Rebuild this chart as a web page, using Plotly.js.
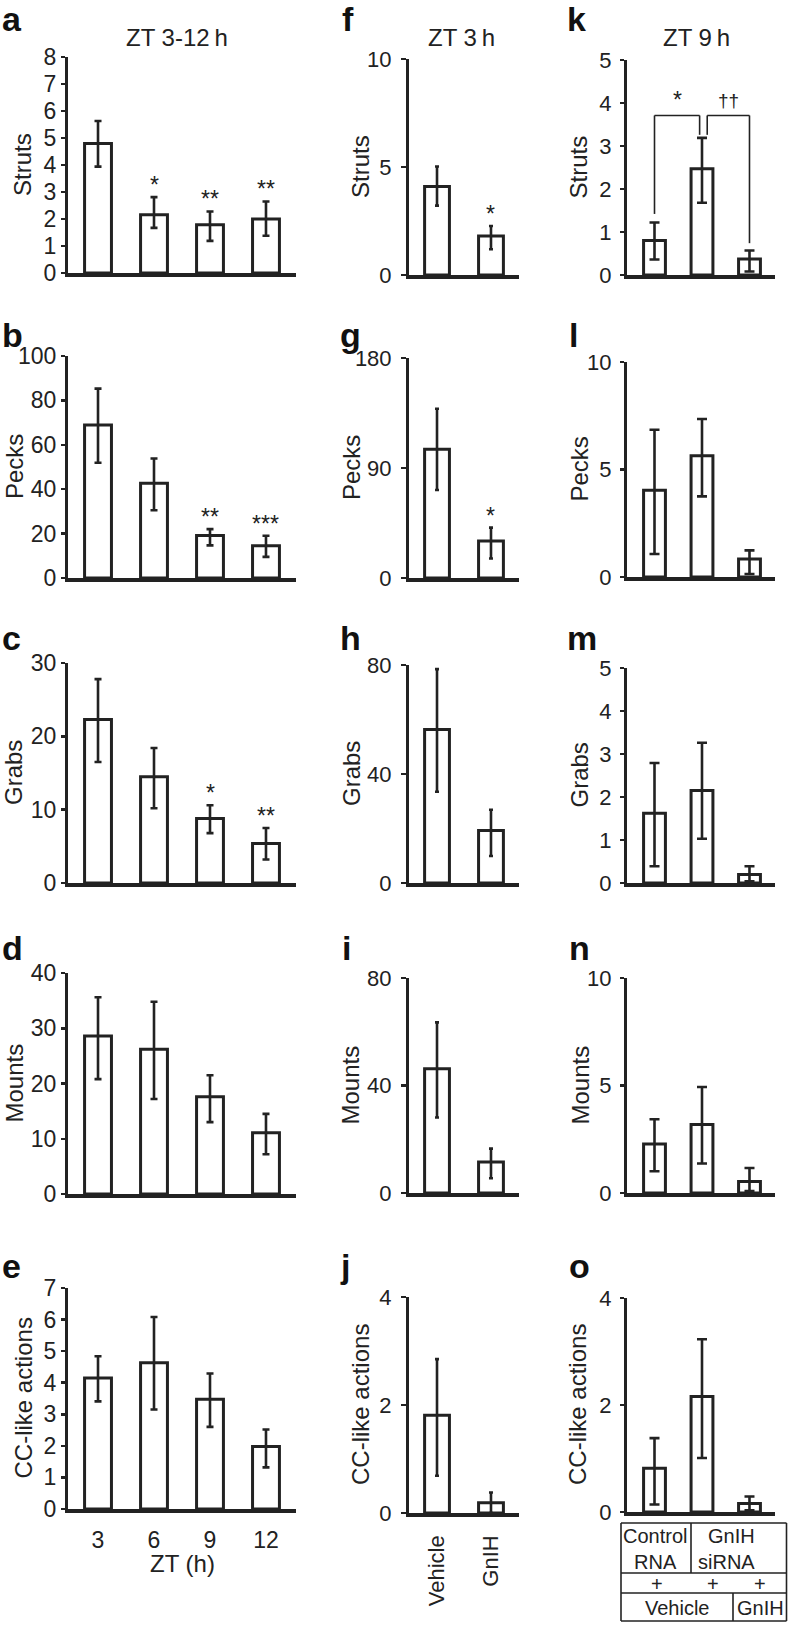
<!DOCTYPE html>
<html><head><meta charset="utf-8">
<script src="https://cdn.plot.ly/plotly-3.0.1.min.js"></script>
<style>html,body{margin:0;padding:0;background:#fff}#chart{width:788px;height:1625px}</style>
</head><body><div id="chart"></div>
<script>
// ---------- categories ----------
const ztHours = ['3', '6', '9', '12'];
const treatments = ['Vehicle', 'GnIH'];
const sirnaGroups = ['Control RNA + Vehicle', 'GnIH siRNA + Vehicle', 'GnIH siRNA + GnIH'];

// ---------- column 1: ZT 3-12 h (mean, +err, -err) ----------
const strutsZT = [4.80, 2.16, 1.79, 2.00];
const strutsZTUp = [0.83, 0.65, 0.49, 0.65];
const strutsZTDn = [0.86, 0.49, 0.60, 0.62];
const pecksZT = [68.9, 42.7, 19.1, 14.5];
const pecksZTUp = [16.4, 11.1, 2.9, 4.5];
const pecksZTDn = [17.0, 12.2, 4.4, 5.0];
const grabsZT = [22.3, 14.5, 8.8, 5.4];
const grabsZTUp = [5.5, 3.9, 1.8, 2.1];
const grabsZTDn = [5.8, 4.3, 2.0, 2.2];
const mountsZT = [28.6, 26.2, 17.6, 11.1];
const mountsZTUp = [7.0, 8.6, 3.9, 3.4];
const mountsZTDn = [7.8, 9.0, 4.6, 3.9];
const ccZT = [4.15, 4.63, 3.48, 1.98];
const ccZTUp = [0.69, 1.45, 0.81, 0.54];
const ccZTDn = [0.74, 1.48, 0.88, 0.66];

// ---------- column 2: ZT 3 h, Vehicle vs GnIH ----------
const strutsTr = [4.10, 1.81];
const strutsTrUp = [0.92, 0.46];
const strutsTrDn = [0.89, 0.62];
const pecksTr = [105.4, 30.2];
const pecksTrUp = [33.1, 11.0];
const pecksTrDn = [33.4, 14.3];
const grabsTr = [56.3, 19.3];
const grabsTrUp = [22.2, 7.6];
const grabsTrDn = [22.8, 9.4];
const mountsTr = [46.2, 11.5];
const mountsTrUp = [17.3, 5.0];
const mountsTrDn = [18.1, 6.0];
const ccTr = [1.81, 0.19];
const ccTrUp = [1.04, 0.19];
const ccTrDn = [1.12, 0.19];

// ---------- column 3: ZT 9 h, siRNA groups ----------
const strutsSi = [0.80, 2.47, 0.37];
const strutsSiUp = [0.42, 0.72, 0.20];
const strutsSiDn = [0.44, 0.79, 0.29];
const pecksSi = [4.03, 5.64, 0.84];
const pecksSiUp = [2.82, 1.71, 0.40];
const pecksSiDn = [2.96, 1.89, 0.70];
const grabsSi = [1.62, 2.15, 0.20];
const grabsSiUp = [1.17, 1.11, 0.19];
const grabsSiDn = [1.23, 1.12, 0.16];
const mountsSi = [2.28, 3.19, 0.53];
const mountsSiUp = [1.15, 1.74, 0.63];
const mountsSiDn = [1.27, 1.82, 0.44];
const ccSi = [0.82, 2.16, 0.16];
const ccSiUp = [0.56, 1.07, 0.13];
const ccSiDn = [0.68, 1.15, 0.13];

// ---------- significance marks ----------
const sigStrutsZT = ['', '*', '**', '**'];
const sigPecksZT = ['', '', '**', '***'];
const sigGrabsZT = ['', '', '*', '**'];
const sigStrutsTr = ['', '*'];
const sigPecksTr = ['', '*'];
const strutsSiComparisons = [[0, 1, '*'], [1, 2, '\u2020\u2020']];
const strutsSiBracketLevel = 3.71;

// ---------- text ----------
const columnTitles = ['ZT 3-12\u2009h', 'ZT 3\u2009h', 'ZT 9\u2009h'];
const rowTitles = ['Struts', 'Pecks', 'Grabs', 'Mounts', 'CC-like actions'];
const panelLetters = ['a','b','c','d','e','f','g','h','i','j','k','l','m','n','o'];
const ztAxisTitle = 'ZT (h)';
const tableLine1 = ['Control', 'GnIH'];
const tableLine2 = ['RNA', 'siRNA'];
const tablePlus = ['+', '+', '+'];
const tableLine3 = ['Vehicle', 'GnIH'];

// ---------- layout geometry (pixels) ----------
const W = 788, H = 1625;
const FONT = '"Liberation Sans", Arial, Helvetica, sans-serif';
const INK = '#222';
const cols = [
  {x0: 68, x1: 296, range: [-0.536, 3.536], bw: 0.48, cap: 3.5, tick: 23, pad: 0, tlen: 4, cats: ztHours},
  {x0: 409, x1: 519, range: [-0.519, 1.519], bw: 0.46, cap: 2, tick: 22, pad: 5, tlen: 5, cats: treatments},
  {x0: 627, x1: 775, range: [-0.579, 2.537], bw: 0.46, cap: 5, tick: 22, pad: 4, tlen: 4, cats: sirnaGroups}
];
const rowsY = [
  [[57, 273], [59, 275], [60, 275]],
  [[356, 578], [358, 578], [362, 577]],
  [[663, 883], [665, 883], [668, 883]],
  [[973, 1194], [978, 1193], [978, 1193]],
  [[1288, 1509], [1297, 1513], [1298, 1512]]
];
const yTitleX = [[22, 14, 14, 14, 23], [360, 351, 351, 350, 360], [578, 579, 579, 580, 577]];
const letterX = [[0, 0, 0, 0, 0], [340, 338, 338, 340, 338], [565, 567, 565, 567, 567]];
const letterMid = [null, 335, 638, 948, 1266];

const panelData = [
  [{y: strutsZT, up: strutsZTUp, dn: strutsZTDn, max: 8, dtick: 1, sig: sigStrutsZT},
   {y: pecksZT, up: pecksZTUp, dn: pecksZTDn, max: 100, dtick: 20, sig: sigPecksZT},
   {y: grabsZT, up: grabsZTUp, dn: grabsZTDn, max: 30, dtick: 10, sig: sigGrabsZT},
   {y: mountsZT, up: mountsZTUp, dn: mountsZTDn, max: 40, dtick: 10},
   {y: ccZT, up: ccZTUp, dn: ccZTDn, max: 7, dtick: 1}],
  [{y: strutsTr, up: strutsTrUp, dn: strutsTrDn, max: 10, dtick: 5, sig: sigStrutsTr},
   {y: pecksTr, up: pecksTrUp, dn: pecksTrDn, max: 180, dtick: 90, sig: sigPecksTr},
   {y: grabsTr, up: grabsTrUp, dn: grabsTrDn, max: 80, dtick: 40},
   {y: mountsTr, up: mountsTrUp, dn: mountsTrDn, max: 80, dtick: 40},
   {y: ccTr, up: ccTrUp, dn: ccTrDn, max: 4, dtick: 2}],
  [{y: strutsSi, up: strutsSiUp, dn: strutsSiDn, max: 5, dtick: 1},
   {y: pecksSi, up: pecksSiUp, dn: pecksSiDn, max: 10, dtick: 5},
   {y: grabsSi, up: grabsSiUp, dn: grabsSiDn, max: 5, dtick: 1},
   {y: mountsSi, up: mountsSiUp, dn: mountsSiDn, max: 10, dtick: 5},
   {y: ccSi, up: ccSiUp, dn: ccSiDn, max: 4, dtick: 2}]
];

const traces = [];
const layout = {
  width: W, height: H,
  margin: {l: 0, r: 0, t: 0, b: 0},
  paper_bgcolor: '#fff', plot_bgcolor: 'rgba(0,0,0,0)',
  showlegend: false,
  font: {family: FONT, color: INK, size: 23},
  annotations: [], shapes: []
};

let n = 0;
for (let c = 0; c < 3; c++) {
  for (let r = 0; r < 5; r++) {
    n++;
    const col = cols[c], pd = panelData[c][r];
    const [yt, yb] = rowsY[r][c];
    const xs = 'x' + (n > 1 ? n : ''), ys = 'y' + (n > 1 ? n : '');
    const xk = 'xaxis' + (n > 1 ? n : ''), yk = 'yaxis' + (n > 1 ? n : '');
    traces.push({
      type: 'bar', x: col.cats, y: pd.y, xaxis: xs, yaxis: ys,
      width: col.bw,
      marker: {color: '#fff', line: {color: INK, width: 3}},
      error_y: {type: 'data', symmetric: false, array: pd.up, arrayminus: pd.dn,
                color: INK, thickness: 2.6, width: col.cap},
      hoverinfo: 'skip'
    });
    const xa = {
      domain: [col.x0 / W, col.x1 / W], range: col.range, type: 'category',
      anchor: ys, showline: true, linewidth: 3.5, linecolor: INK,
      ticks: '', showticklabels: false, showgrid: false, zeroline: false, fixedrange: true
    };
    if (c === 0 && r === 4) {
      xa.showticklabels = true;
      xa.tickfont = {size: 23, color: INK};
      xa.ticklabelstandoff = 8;
      // axis title drawn below as an annotation tied to this axis' domain
      layout.annotations.push({
        xref: xs + ' domain', yref: 'paper', x: 0.5, y: 1 - 1563 / H,
        xanchor: 'center', yanchor: 'middle', showarrow: false,
        text: ztAxisTitle, font: {size: 24, color: INK}
      });
    }
    if (c === 1 && r === 4) {
      xa.showticklabels = true;
      xa.tickangle = -90;
      xa.tickfont = {size: 22, color: INK};
      xa.ticklabelstandoff = 10;
    }
    layout[xk] = xa;
    layout[yk] = {
      domain: [1 - yb / H, 1 - yt / H], range: [0, pd.max], tick0: 0, dtick: pd.dtick,
      anchor: xs, showline: true, linewidth: 3, linecolor: INK,
      ticks: 'outside', ticklen: col.tlen, tickwidth: 2.5, tickcolor: INK,
      tickfont: {size: col.tick, color: INK}, ticklabelstandoff: col.pad,
      showgrid: false, zeroline: false, fixedrange: true
    };
    // y-axis title
    layout.annotations.push({
      xref: 'paper', yref: ys + ' domain', x: yTitleX[c][r] / W, y: 0.5,
      xanchor: 'center', yanchor: 'middle', textangle: -90, showarrow: false,
      text: rowTitles[r], font: {size: 24, color: INK}
    });
    // panel letter
    const letter = {
      xref: 'paper', yref: 'paper', x: letterX[c][r] / W,
      xanchor: 'left', showarrow: false,
      text: '<b>' + panelLetters[n - 1] + '</b>', font: {size: 34, family: FONT, color: '#111'}
    };
    if (r === 0) { letter.y = 1; letter.yanchor = 'top'; letter.yshift = 2; }
    else { letter.y = 1 - letterMid[r] / H; letter.yanchor = 'middle'; }
    layout.annotations.push(letter);
    // significance stars
    if (pd.sig) {
      pd.sig.forEach((s, i) => {
        if (!s) return;
        layout.annotations.push({
          xref: xs, yref: ys, x: i, y: pd.y[i] + pd.up[i], xanchor: 'center', yanchor: 'bottom',
          showarrow: false, text: s, font: {size: 23, color: INK}, yshift: -3
        });
      });
    }
  }
}

// column titles
const titleCenters = [177, 461, 696];
columnTitles.forEach((t, i) => {
  layout.annotations.push({
    xref: 'paper', yref: 'paper', x: titleCenters[i] / W, y: 1 - 38 / H,
    xanchor: 'center', yanchor: 'middle', showarrow: false, text: t,
    font: {size: 24, color: INK}
  });
});

// brackets for panel k (subplot 11)
const kx = 'x11', ky = 'y11';
strutsSiComparisons.forEach(([a, b, label], idx) => {
  const leftX = idx === 0 ? a : a + 0.11;
  const rightX = idx === 0 ? b - 0.05 : b;
  const leftEnd = strutsSi[a] + strutsSiUp[a] + (idx === 0 ? 0.2 : 0.07);
  const rightEnd = strutsSi[b] + strutsSiUp[b] + (idx === 0 ? 0.07 : 0.17);
  const lvl = strutsSiBracketLevel;
  const line = {color: INK, width: 1.6};
  layout.shapes.push({type: 'line', xref: kx, yref: ky, x0: leftX, x1: leftX, y0: leftEnd, y1: lvl, line});
  layout.shapes.push({type: 'line', xref: kx, yref: ky, x0: leftX, x1: rightX, y0: lvl, y1: lvl, line});
  layout.shapes.push({type: 'line', xref: kx, yref: ky, x0: rightX, x1: rightX, y0: lvl, y1: rightEnd, line});
  layout.annotations.push({
    xref: kx, yref: ky, x: (leftX + rightX) / 2, y: lvl, xanchor: 'center', yanchor: 'bottom',
    showarrow: false, text: label, font: {size: idx === 0 ? 23 : 19, color: INK}, yshift: idx === 0 ? 0 : 2
  });
});

// treatment table under panel o
const px = v => v / W, py = v => 1 - v / H;
const tl = {color: INK, width: 1.6};
const T = {l: 621, r: 786.5, t: 1523, m1: 1573, m2: 1593, b: 1621, v1: 691, v2: 733};
[[T.l, T.t, T.r, T.t], [T.l, T.b, T.r, T.b], [T.l, T.t, T.l, T.b], [T.r, T.t, T.r, T.b],
 [T.l, T.m1, T.r, T.m1], [T.l, T.m2, T.r, T.m2], [T.v1, T.t, T.v1, T.m1], [T.v2, T.m2, T.v2, T.b]]
  .forEach(([x0, y0, x1, y1]) => layout.shapes.push({type: 'line', xref: 'paper', yref: 'paper',
    x0: px(x0), y0: py(y0), x1: px(x1), y1: py(y1), line: tl}));
const tcell = (txt, x, y) => layout.annotations.push({xref: 'paper', yref: 'paper', x: px(x), y: py(y),
  xanchor: 'center', yanchor: 'middle', showarrow: false, text: txt, font: {size: 20, color: INK}});
tcell(tableLine1[0], 655, 1536); tcell(tableLine2[0], 655, 1562);
tcell(tableLine1[1], 731, 1536); tcell(tableLine2[1], 726, 1562);
[657, 713, 760].forEach((x, i) => tcell(tablePlus[i], x, 1584));
tcell(tableLine3[0], 677, 1608); tcell(tableLine3[1], 760, 1608);

Plotly.newPlot('chart', traces, layout, {displayModeBar: false, staticPlot: true});
</script>
</body></html>
